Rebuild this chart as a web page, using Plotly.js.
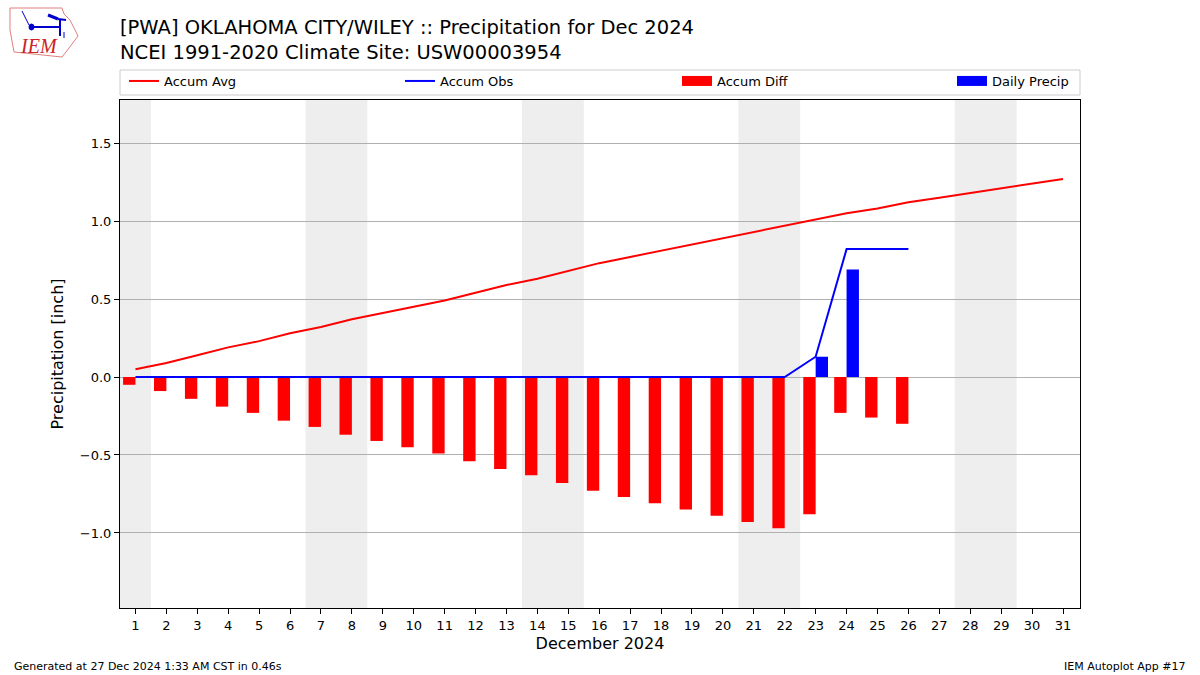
<!DOCTYPE html>
<html>
<head>
<meta charset="utf-8">
<script src="https://cdn.plot.ly/plotly-3.0.1.min.js"></script>
<style>html,body{margin:0;padding:0;background:#fff;}#chart{width:1200px;height:675px;}</style>
</head>
<body>
<div id="chart"></div>
<script>
const days = Array.from({length: 31}, (_, i) => i + 1);
const accumAvg = [0.05,0.09,0.14,0.19,0.23,0.28,0.32,0.37,0.41,0.45,0.49,0.54,0.59,0.63,0.68,0.73,0.77,0.81,0.85,0.89,0.93,0.97,1.01,1.05,1.08,1.12,1.15,1.18,1.21,1.24,1.27];
const obsDays = days.slice(0, 26);
const accumObs = [0,0,0,0,0,0,0,0,0,0,0,0,0,0,0,0,0,0,0,0,0,0,0.13,0.82,0.82,0.82];
const accumDiff = [-0.05,-0.09,-0.14,-0.19,-0.23,-0.28,-0.32,-0.37,-0.41,-0.45,-0.49,-0.54,-0.59,-0.63,-0.68,-0.73,-0.77,-0.81,-0.85,-0.89,-0.93,-0.97,-0.88,-0.23,-0.26,-0.30];
const dailyPrecip = [0,0,0,0,0,0,0,0,0,0,0,0,0,0,0,0,0,0,0,0,0,0,0.13,0.69,0,0];
const weekendSpans = [[0.5,1.5],[6.5,8.5],[13.5,15.5],[20.5,22.5],[27.5,29.5]];
const titleLine1 = "[PWA] OKLAHOMA CITY/WILEY :: Precipitation for Dec 2024";
const titleLine2 = "NCEI 1991-2020 Climate Site: USW00003954";
const seriesNames = ['Accum Avg', 'Accum Obs', 'Accum Diff', 'Daily Precip'];

const FONT = "DejaVu Sans, sans-serif";
const RED = '#ff0000', BLUE = '#0000ff';

const traces = [
  {x: days, y: accumAvg, type: 'scatter', mode: 'lines', name: seriesNames[0], legend: 'legend',
   line: {color: RED, width: 2}},
  {x: obsDays, y: accumObs, type: 'scatter', mode: 'lines', name: seriesNames[1], legend: 'legend2',
   line: {color: BLUE, width: 2}},
  {x: obsDays, y: accumDiff, type: 'bar', name: seriesNames[2], width: 0.4, offset: -0.4, showlegend: false,
   marker: {color: RED, line: {width: 0}}},
  {x: obsDays, y: dailyPrecip, type: 'bar', name: seriesNames[3], width: 0.4, offset: 0, showlegend: false,
   marker: {color: BLUE, line: {width: 0}}},
  // legend patches for the bar series (no data)
  {x: [null], y: [null], type: 'scatter', mode: 'lines', name: seriesNames[2], legend: 'legend3',
   line: {color: RED, width: 10}, hoverinfo: 'skip'},
  {x: [null], y: [null], type: 'scatter', mode: 'lines', name: seriesNames[3], legend: 'legend4',
   line: {color: BLUE, width: 10}, hoverinfo: 'skip'}
];

const shapes = weekendSpans.map(s => ({
  type: 'rect', xref: 'x', yref: 'paper', x0: s[0], x1: s[1], y0: 0, y1: 1,
  fillcolor: '#eeeeee', line: {width: 0}, layer: 'below'
}));
// legend frame
shapes.push({type: 'rect', xref: 'paper', yref: 'paper', x0: 0, x1: 1,
  y0: (608 - 95) / 508, y1: (608 - 70) / 508, line: {color: '#cccccc', width: 1}, fillcolor: 'rgba(0,0,0,0)'});

function legendAt(px) {
  return {orientation: 'h', x: (px - 160) / 960, xanchor: 'left', y: (608 - 81) / 508, yanchor: 'middle',
          bgcolor: 'rgba(0,0,0,0)', borderwidth: 0, font: {family: FONT, size: 13, color: '#000'}, itemwidth: 30};
}

function px2paperX(px) { return (px - 120) / 960; }
function px2paperY(py) { return (608 - py) / 508; }

const layout = {
  width: 1200, height: 675,
  margin: {l: 120, r: 120, t: 100, b: 67},
  paper_bgcolor: '#ffffff', plot_bgcolor: 'rgba(0,0,0,0)',
  font: {family: FONT, size: 13, color: '#000'},
  barmode: 'overlay',
  title: {text: titleLine1 + '<br>' + titleLine2, x: 0.1, xref: 'container', xanchor: 'left',
          y: 1 - 33.5 / 675, yref: 'container', yanchor: 'middle',
          font: {family: FONT, size: 19.5, color: '#000'}},
  xaxis: {range: [0.5, 31.55], tickmode: 'array', tickvals: days, ticktext: days.map(String),
          showgrid: false, zeroline: false, showline: true, mirror: true, linecolor: '#000', linewidth: 1,
          ticks: 'outside', ticklen: 5, tickcolor: '#000',
          title: {text: 'December 2024', font: {family: FONT, size: 16}, standoff: 6},
          tickfont: {family: FONT, size: 13}},
  yaxis: {range: [-1.481, 1.776], tickmode: 'array', tickvals: [-1, -0.5, 0, 0.5, 1, 1.5],
          tickformat: '.1f', showgrid: true, gridcolor: '#b0b0b0', gridwidth: 1,
          zeroline: false, showline: true, mirror: true, linecolor: '#000', linewidth: 1,
          ticks: 'outside', ticklen: 5, tickcolor: '#000',
          title: {text: 'Precipitation [inch]', font: {family: FONT, size: 16}, standoff: 12},
          tickfont: {family: FONT, size: 13}},
  showlegend: true,
  legend: legendAt(164),
  legend2: legendAt(440),
  legend3: legendAt(717),
  legend4: legendAt(992),
  shapes: shapes,
  annotations: [
    {text: 'Generated at 27 Dec 2024 1:33 AM CST in 0.46s', xref: 'paper', yref: 'paper',
     x: px2paperX(12), y: px2paperY(666), xanchor: 'left', yanchor: 'middle', showarrow: false,
     font: {family: FONT, size: 11}},
    {text: 'IEM Autoplot App #17', xref: 'paper', yref: 'paper',
     x: px2paperX(1188), y: px2paperY(666), xanchor: 'right', yanchor: 'middle', showarrow: false,
     font: {family: FONT, size: 11}},
    {text: '<i>IEM</i>', xref: 'paper', yref: 'paper', x: px2paperX(18), y: px2paperY(46),
     xanchor: 'left', yanchor: 'middle', showarrow: false,
     font: {family: 'Liberation Serif, serif', size: 20, color: '#cc2222'}}
  ]
};

// simple logo (Iowa outline with blue mark)
const logoPts = [[10,8],[62,8],[64,14],[70,20],[74,28],[78,36],[72,44],[66,52],[62,57],[14,52],[10,30]];
const path = 'M ' + logoPts.map(p => px2paperX(p[0]).toFixed(4) + ',' + px2paperY(p[1]).toFixed(4)).join(' L ') + ' Z';
layout.shapes.push({type: 'path', xref: 'paper', yref: 'paper', path: path,
  line: {color: '#e08080', width: 1}, fillcolor: 'rgba(0,0,0,0)'});
const logoLines = [[31,27,60,27,2],[60,20,60,36,2],[48,15,58,19,3],[58,19,66,20,2],[22,11,29,25,1],[64,32,64,38,1]];
logoLines.forEach(l => layout.shapes.push({type: 'line', xref: 'paper', yref: 'paper',
  x0: px2paperX(l[0]), y0: px2paperY(l[1]), x1: px2paperX(l[2]), y1: px2paperY(l[3]),
  line: {color: '#0000cc', width: l[4]}}));
layout.shapes.push({type: 'circle', xref: 'paper', yref: 'paper', x0: px2paperX(29), y0: px2paperY(24), x1: px2paperX(34), y1: px2paperY(30),
  line: {color: '#0000cc', width: 1}, fillcolor: '#0000cc'});

Plotly.newPlot('chart', traces, layout, {staticPlot: true, displayModeBar: false});
</script>
</body>
</html>
